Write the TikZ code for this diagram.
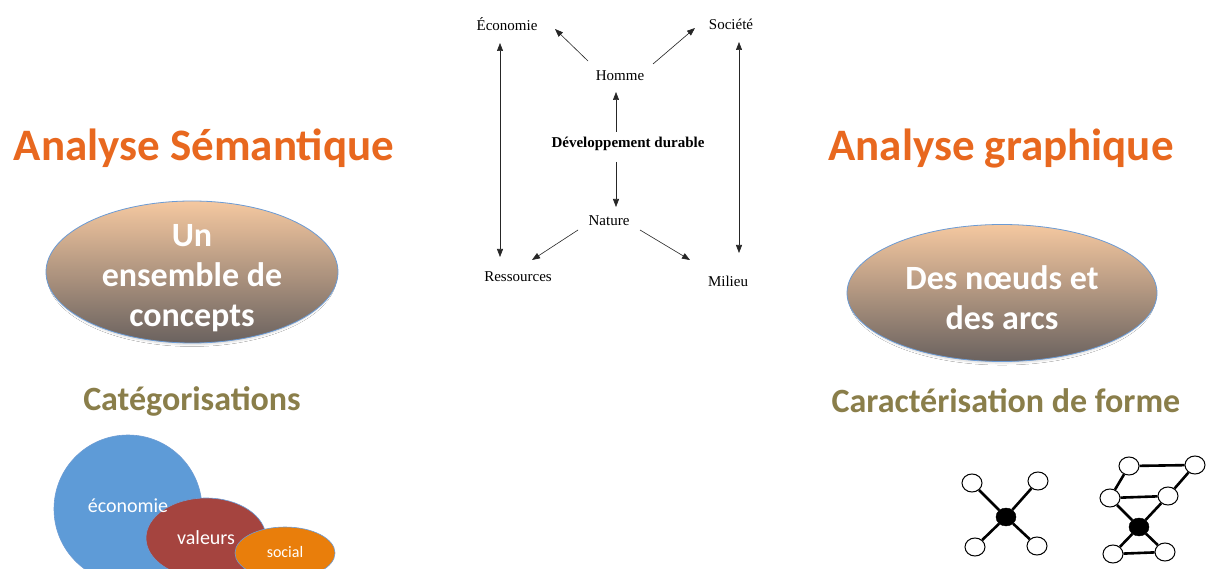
\documentclass[tikz,border=0pt]{standalone}
\usepackage{fontspec}
\setmainfont{Liberation Serif}
\newfontfamily\carl{Carlito}
\usetikzlibrary{arrows.meta,shapes.geometric,shadows.blur}
\definecolor{ttl}{HTML}{E8681F}
\definecolor{olv}{HTML}{8A7E4A}
\definecolor{peach}{HTML}{F5C8A0}
\definecolor{mauve}{HTML}{6A625F}
\definecolor{edgeblue}{HTML}{6C9BD4}
\definecolor{cblue}{HTML}{5E9BD7}
\definecolor{cred}{HTML}{A5443F}
\definecolor{corange}{HTML}{E97E0B}
\tikzset{
  title/.style={font=\carl\bfseries\fontsize{45}{54}\selectfont, text=ttl, anchor=base, inner sep=0},
  subtitle/.style={font=\carl\bfseries\fontsize{34}{40}\selectfont, text=olv, anchor=base, inner sep=0},
  bigell/.style={ellipse, draw=edgeblue, line width=0.8pt, top color=peach, bottom color=mauve, inner sep=0,
     blur shadow={shadow xshift=0pt, shadow yshift=-3pt, shadow scale=0.98, shadow opacity=15, shadow blur steps=6, shadow blur radius=2pt}},
  elltext/.style={font=\carl\bfseries\fontsize{34}{40}\selectfont, text=white, align=center, inner sep=0},
  diag/.style={font=\fontsize{15}{18}\selectfont, inner sep=0},
  arr/.style={line width=0.6pt, draw=black!85, -{Triangle[length=8pt,width=6pt]}},
  dbl/.style={line width=0.6pt, draw=black!85, {Triangle[length=8pt,width=6pt]}-{Triangle[length=8pt,width=6pt]}},
  blob/.style={ellipse, draw=edgeblue, line width=0.6pt, inner sep=0},
  blobtext/.style={font=\carl\fontsize{20}{24}\selectfont, text=white, anchor=base, inner sep=0},
  wn/.style={ellipse, draw=black, line width=1pt, fill=white, minimum width=20pt, minimum height=18pt, inner sep=0},
  bn/.style={ellipse, draw=black, fill=black, minimum width=20pt, minimum height=18pt, inner sep=0},
  ge/.style={line width=2.6pt, draw=black}
}
\begin{document}
\begin{tikzpicture}[x=1pt,y=-1pt]
\useasboundingbox[fill=white] (0,0) rectangle (1211,569);

% titles
\node[title] (tl) at (204,161) {Analyse Sémantique};
\node[title] (tr) at (1001,161) {Analyse graphique};

% big ellipses
\node[bigell, minimum width=292pt, minimum height=142pt] (el) at (192,272) {};
\node[elltext] (elt) at (192,278) {Un\\ensemble de\\concepts};
\node[bigell, minimum width=310pt, minimum height=137pt] (er) at (1002,293) {};
\node[elltext] (ert) at (1002,298) {Des nœuds et\\des arcs};

% subtitles
\node[subtitle] (sl) at (192,410) {Catégorisations};
\node[subtitle] (sr) at (1006,413) {Caractérisation de forme};

% blobs
\node[blob, fill=cblue, minimum width=148pt, minimum height=148pt] (b1) at (128,509) {};
\node[blob, fill=cred, minimum width=120pt, minimum height=80pt] (b2) at (206,538) {};
\node[blob, fill=corange, minimum width=100pt, minimum height=52pt] (b3) at (285,553) {};
\node[blobtext] (bt1) at (128,512) {économie};
\node[blobtext] (bt2) at (206,544) {valeurs};
\node[blobtext, font=\carl\fontsize{16}{20}\selectfont] (bt3) at (285,557) {social};

% central diagram
\node[diag] (eco) at (507,24) {Économie};
\node[diag] (soc) at (731,24) {Société};
\node[diag] (hom) at (620,76) {Homme};
\node[diag, font=\bfseries\fontsize{15}{18}\selectfont] (dd) at (628,144) {Développement durable};
\node[diag] (nat) at (609,221) {Nature};
\node[diag] (res) at (518,277) {Ressources};
\node[diag] (mil) at (728,281) {Milieu};

\draw[dbl] ([shift={(-7,19)}]eco.center) -- ([shift={(-18,-20)}]res.center);
\draw[dbl] ([shift={(8,18)}]soc.center) -- ([shift={(11,-28)}]mil.center);
\draw[arr] ([shift={(-32,-15)}]hom.center) -- ([shift={(48,5)}]eco.center);
\draw[arr] ([shift={(33,-12)}]hom.center) -- ([shift={(-36,4)}]soc.center);
\draw[arr] ([shift={(-12,-12)}]dd.center) -- ([shift={(-4,16)}]hom.center);
\draw[arr] ([shift={(-12,18)}]dd.center) -- ([shift={(7,-14)}]nat.center);
\draw[arr] ([shift={(-31,9)}]nat.center) -- ([shift={(14,-17)}]res.center);
\draw[arr] ([shift={(31,9)}]nat.center) -- ([shift={(-38,-21)}]mil.center);

% graph 1
\node[bn] (g0) at (1006,517) {};
\node[wn] (g1) at (972,483) {};
\node[wn] (g2) at (1038,481) {};
\node[wn] (g3) at (975,547) {};
\node[wn] (g4) at (1037,546) {};
\draw[ge] (g0) -- (g1);
\draw[ge] (g0) -- (g2);
\draw[ge] (g0) -- (g3);
\draw[ge] (g0) -- (g4);

% graph 2
\node[bn] (h0) at (1139,527) {};
\node[wn] (ha) at (1129,466) {};
\node[wn] (hb) at (1195,465) {};
\node[wn] (hc) at (1110,498) {};
\node[wn] (hd) at (1168,496) {};
\node[wn] (he) at (1113,554) {};
\node[wn] (hf) at (1165,552) {};
\draw[ge] (ha) -- (hb);
\draw[ge] (ha) -- (hc);
\draw[ge] (hb) -- (hd);
\draw[ge] (hc) -- (hd);
\draw[ge] (hc) -- (h0);
\draw[ge] (hd) -- (h0);
\draw[ge] (h0) -- (he);
\draw[ge] (h0) -- (hf);
\draw[ge] (he) -- (hf);
\end{tikzpicture}
\end{document}
